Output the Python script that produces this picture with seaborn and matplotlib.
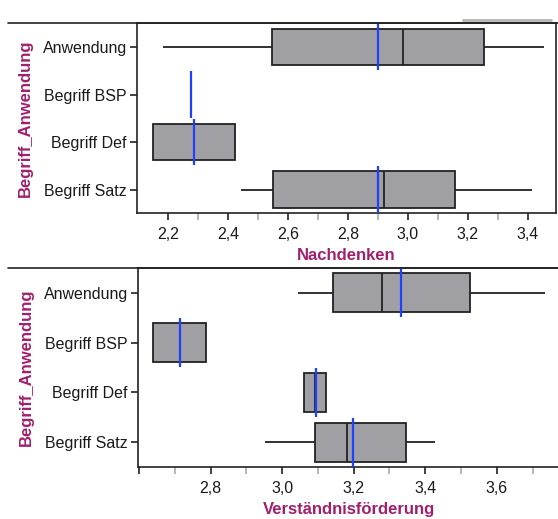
import numpy as np
import pandas as pd
import seaborn as sns
import matplotlib.pyplot as plt
from matplotlib.lines import Line2D
from matplotlib.ticker import FixedLocator, FuncFormatter

categories = ["Anwendung", "Begriff BSP", "Begriff Def", "Begriff Satz"]

# Nachdenken: five-number summaries
nach_min = [2.183, 2.276, 2.150, 2.442]
nach_q1 = [2.545, 2.276, 2.150, 2.551]
nach_med = [2.985, 2.276, 2.287, 2.920]
nach_q3 = [3.253, 2.276, 2.424, 3.156]
nach_max = [3.454, 2.276, 2.424, 3.415]
nach_mean = [2.901, 2.276, 2.287, 2.901]

# Verständnisförderung
verst_min = [3.044, 2.640, 3.062, 2.952]
verst_q1 = [3.141, 2.640, 3.062, 3.091]
verst_med = [3.279, 2.714, 3.093, 3.182]
verst_q3 = [3.526, 2.788, 3.124, 3.346]
verst_max = [3.735, 2.788, 3.124, 3.427]
verst_mean = [3.333, 2.715, 3.095, 3.199]

nach_ticks = [2.2, 2.4, 2.6, 2.8, 3.0, 3.2, 3.4]
verst_ticks = [2.6, 2.8, 3.0, 3.2, 3.4, 3.6]

LABEL_COLOR = "#a0206e"
BOX_COLOR = "#a0a0a4"
EDGE_COLOR = "#222222"
MEAN_COLOR = "#2040ff"


def long_frame(lo, q1, med, q3, hi):
    rows = []
    for i, cat in enumerate(categories):
        for v in (lo[i], q1[i], med[i], q3[i], hi[i]):
            rows.append((cat, v))
    return pd.DataFrame(rows, columns=["Begriff_Anwendung", "value"])


sns.set_style("white")
plt.rcParams["font.family"] = ["Liberation Sans", "DejaVu Sans"]

fig = plt.figure(figsize=(5.58, 5.19), dpi=100)
W, H = 558, 519


def px_axes(left, top, right, bottom):
    return fig.add_axes([left / W, 1 - bottom / H, (right - left) / W, (bottom - top) / H])


ax1 = px_axes(137.3, 23.3, 556, 213.3)
ax2 = px_axes(138.3, 267.7, 559, 467.3)

panels = [
    (ax1, long_frame(nach_min, nach_q1, nach_med, nach_q3, nach_max), nach_mean,
     "Nachdenken", (2.0965, 3.4945), nach_ticks, None),
    (ax2, long_frame(verst_min, verst_q1, verst_med, verst_q3, verst_max), verst_mean,
     "Verständnisförderung", (2.598, 3.774), verst_ticks, 2.6),
]

for ax, df, means, xlabel, xlim, ticks, hidden in panels:
    sns.boxplot(data=df, x="value", y="Begriff_Anwendung", order=categories,
                orient="h", whis=(0, 100), width=0.77, color=BOX_COLOR,
                linecolor=EDGE_COLOR, linewidth=1.3, showcaps=False,
                showfliers=False, saturation=1, ax=ax)
    ax.vlines(means, np.arange(len(categories)) - 0.49,
              np.arange(len(categories)) + 0.49, color=MEAN_COLOR, lw=1.6, zorder=5)
    ax.set_xlim(*xlim)
    ax.set_ylim(3.5, -0.5)
    ax.xaxis.set_major_locator(FixedLocator(ticks))
    minor = np.round(np.arange(ticks[0] + 0.1, xlim[1], 0.2), 2)
    ax.xaxis.set_minor_locator(FixedLocator(minor))
    ax.xaxis.set_major_formatter(FuncFormatter(
        lambda v, p, h=hidden: "" if h is not None and round(v, 2) == h
        else f"{v:.1f}".replace(".", ",")))
    ax.tick_params(axis="x", which="major", length=5, width=1.2, color="#222222",
                   labelsize=11.5, labelcolor="#1a1a1a", pad=5, bottom=True)
    ax.tick_params(axis="x", which="minor", length=5, width=1.2, color="#aaaaaa", bottom=True)
    ax.tick_params(axis="y", length=5, width=1.2, color="#222222", labelsize=11.5,
                   labelcolor="#1a1a1a", pad=2.5, left=True)
    ax.set_xlabel(xlabel, fontsize=12, fontweight="bold", color=LABEL_COLOR, labelpad=4)
    ax.set_ylabel("Begriff_Anwendung", fontsize=12, fontweight="bold", color=LABEL_COLOR, labelpad=7)
    for side in ["left", "bottom", "top", "right"]:
        ax.spines[side].set_color("#222222")
        ax.spines[side].set_linewidth(1.2)

ax2.spines["right"].set_visible(False)

# separator lines running across the full width above each panel
fig.add_artist(Line2D([8 / W, 1], [1 - 23.3 / H] * 2, color="#222222", lw=1.2))
fig.add_artist(Line2D([8 / W, 1], [1 - 267.7 / H] * 2, color="#222222", lw=1.2))
fig.add_artist(Line2D([463 / W, 551 / W], [1 - 19.5 / H] * 2, color="#b4b4b4", lw=2))

fig.savefig("out.png", dpi=100)
